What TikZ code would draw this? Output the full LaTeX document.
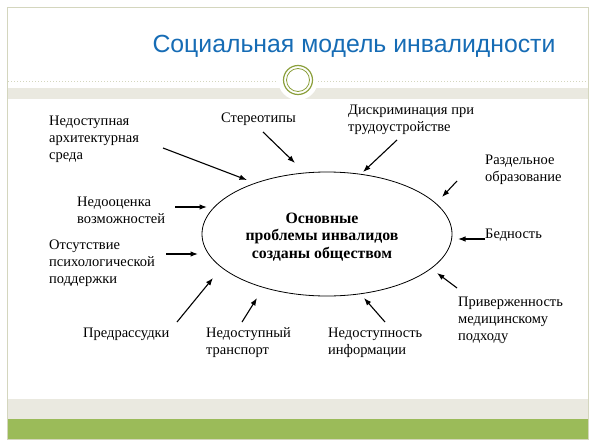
\documentclass[tikz,border=0pt]{standalone}
\usepackage{fontspec}
\setmainfont{Liberation Serif}
\newfontfamily\headfont{Liberation Sans}
\usetikzlibrary{arrows.meta,shapes.geometric}
\definecolor{titleblue}{RGB}{22,108,181}
\definecolor{ringolive}{RGB}{140,160,60}
\definecolor{bandgray}{RGB}{234,233,224}
\definecolor{bandgreen}{RGB}{155,187,89}
\definecolor{framegray}{RGB}{212,214,190}

\begin{document}
\begin{tikzpicture}[x=1pt,y=-1pt,
        cause/.style={align=left,inner sep=0pt,anchor=west,font=\fontsize{14.5}{17}\selectfont},
        push/.style={-{Latex[length=7.5pt,width=5.5pt]},line width=1.1pt}]
            \useasboundingbox (0,0) rectangle (596,447);
            \draw[framegray] (7.5,7.5) rectangle (588.5,439.5);
            \fill[bandgray] (8,88) rectangle (588,99);
            \fill[bandgray] (8,399) rectangle (588,419);
            \fill[bandgreen] (8,419) rectangle (588,439);
            \draw[framegray,dotted,line width=1pt] (8,81) -- (278,81) (318,81) -- (588,81);
            \fill[white] (298,80) circle [radius=20];
            \draw[ringolive,line width=1.2pt] (298,80) circle [radius=14.5];
            \draw[ringolive,line width=0.8pt] (298,80) circle [radius=11.5];
            \node[font=\headfont\fontsize{24.8}{28}\selectfont,text=titleblue] (title) at (354,46) {Социальная модель инвалидности};
            \node[draw,ellipse,line width=0.8pt,minimum width=250pt,minimum height=124pt,inner sep=0pt] (core) at (327,234) {};
            \node[align=center,font=\bfseries\fontsize{15.8}{17.5}\selectfont] (problems) at (322,237) {Основные\\проблемы инвалидов\\созданы обществом};
            \node[cause] (arch) at (49,139) {Недоступная\\архитектурная\\среда};
            \node[cause] (stereo) at (221,119) {Стереотипы};
            \node[cause] (job) at (348,120) {Дискриминация при\\трудоустройстве};
            \node[cause] (school) at (485,170) {Раздельное\\образование};
            \node[cause] (poor) at (485,235) {Бедность};
            \node[cause] (medic) at (458,320) {Приверженность\\медицинскому\\подходу};
            \node[cause] (info) at (328,343) {Недоступность\\информации};
            \node[cause] (bus) at (206,343) {Недоступный\\транспорт};
            \node[cause] (bias) at (83,334) {Предрассудки};
            \node[cause] (psych) at (49,263) {Отсутствие\\психологической\\поддержки};
            \node[cause] (ability) at (77,210) {Недооценка\\возможностей};
            \foreach \c/\x/\y/\u/\v in {arch/163/148/247/180, stereo/263/132/295/163,
                job/397/140/363/172, school/457/181/442/197, poor/485/239/458/239,
                medic/457/288/437/273, info/385/322/364/298, bus/242/322/257/298,
                bias/177/322/213/278, psych/166/254/198/254, ability/175/207/207/207}
            {
                \coordinate (\c-from) at (\x,\y);
                \coordinate (\c-to) at (\u,\v);
            }
            \foreach \c in {arch,stereo,job,school,poor,medic,info,bus,bias,psych,ability}
            \draw[push] (\c-from) -- (\c-to);
        \end{tikzpicture}
\end{document}
